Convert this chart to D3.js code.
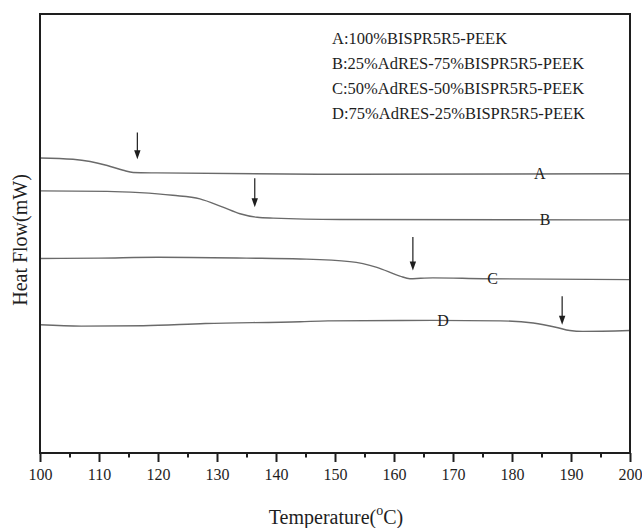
<!DOCTYPE html>
<html>
<head>
<meta charset="utf-8">
<script src="https://cdn.jsdelivr.net/npm/d3@7"></script>
<style>
  html, body { margin: 0; padding: 0; background: #fff; }
  svg { display: block; }
</style>
</head>
<body>
<script>
// Data (temperature in oC, heat flow in arbitrary offset units)
const tempA = [100, 105.6, 108.5, 111.4, 114.1, 115.8, 119.8, 150.8, 200];
const flowA = [6.72, 6.69, 6.64, 6.55, 6.44, 6.39, 6.38, 6.35, 6.36];

const tempB = [100, 111.4, 116.9, 122.5, 127.1, 131, 133.9, 136.8, 139.5, 150.8, 200];
const flowB = [5.97, 5.96, 5.93, 5.87, 5.79, 5.60, 5.45, 5.37, 5.35, 5.32, 5.31];

const tempC = [100, 110, 120, 135, 144.1, 152.5, 157.1, 161, 162.7, 164.5, 166.6, 175.1, 200];
const flowC = [4.43, 4.44, 4.46, 4.44, 4.42, 4.36, 4.23, 4.03, 3.97, 3.98, 3.99, 3.97, 3.95];

const tempD = [100, 107, 117.5, 128, 144.1, 148.8, 166.6, 178, 183.6, 187.6, 189.8, 192, 200];
const flowD = [2.92, 2.89, 2.90, 2.95, 2.99, 3.01, 3.02, 3.01, 2.96, 2.86, 2.79, 2.77, 2.79];

const curveNames = ["A", "B", "C", "D"];
const labelTemps = [184.7, 185.6, 176.7, 168.3];

// Arrows marking the glass transitions
const arrowTemps = [116.5, 136.4, 163.2, 188.5];
const arrowTop = [7.30, 6.26, 4.92, 3.57];
const arrowTip = [6.69, 5.60, 4.16, 2.92];

const legendLines = [
  "A:100%BISPR5R5-PEEK",
  "B:25%AdRES-75%BISPR5R5-PEEK",
  "C:50%AdRES-50%BISPR5R5-PEEK",
  "D:75%AdRES-25%BISPR5R5-PEEK"
];

const majorTicks = [100, 110, 120, 130, 140, 150, 160, 170, 180, 190, 200];
const minorTicks = [105, 115, 125, 135, 145, 155, 165, 175, 185, 195];

// SVG
const W = 642, H = 528;
const margin = { top: 14, right: 12, bottom: 75, left: 40 };
const width = W - margin.left - margin.right;
const height = H - margin.top - margin.bottom;
const font = "'Liberation Serif', 'Times New Roman', serif";
const ink = "#1e1e1e";

const svg = d3.select("body").append("svg")
    .attr("width", W)
    .attr("height", H);

const g = svg.append("g").attr("transform", "translate(" + margin.left + "," + margin.top + ")");

const x = d3.scaleLinear().domain([100, 200]).range([0, width]);
const y = d3.scaleLinear().domain([0, 10]).range([height, 0]);

const series = [
  { t: tempA, f: flowA },
  { t: tempB, f: flowB },
  { t: tempC, f: flowC },
  { t: tempD, f: flowD }
].map(s => s.t.map((t, i) => [t, s.f[i]]));

const line = d3.line()
    .x(d => x(d[0]))
    .y(d => y(d[1]))
    .curve(d3.curveMonotoneX);

// Curves
g.selectAll("path.curve")
  .data(series)
  .join("path")
    .attr("class", "curve")
    .attr("d", line)
    .attr("fill", "none")
    .attr("stroke", "#6a6a6a")
    .attr("stroke-width", 1.4);

// Curve labels, sitting on the line
function valueAt(s, t) {
  const i = d3.bisector(d => d[0]).left(s, t);
  if (i <= 0) return s[0][1];
  const a = s[i - 1], b = s[i];
  return a[1] + (b[1] - a[1]) * (t - a[0]) / (b[0] - a[0]);
}

g.selectAll("text.clabel")
  .data(curveNames)
  .join("text")
    .attr("class", "clabel")
    .attr("x", (d, i) => x(labelTemps[i]))
    .attr("y", (d, i) => y(valueAt(series[i], labelTemps[i])) + 5.5)
    .attr("text-anchor", "middle")
    .attr("font-family", font)
    .attr("font-size", "16px")
    .attr("fill", ink)
    .text(d => d);

// Arrows
const arrows = g.selectAll("g.arrow")
  .data(arrowTemps)
  .join("g")
    .attr("class", "arrow");

arrows.append("line")
    .attr("x1", d => x(d))
    .attr("x2", d => x(d))
    .attr("y1", (d, i) => y(arrowTop[i]))
    .attr("y2", (d, i) => y(arrowTip[i]) - 6)
    .attr("stroke", ink)
    .attr("stroke-width", 1.2);

arrows.append("path")
    .attr("d", (d, i) => {
      const px = x(d), py = y(arrowTip[i]);
      return "M" + (px - 3.2) + "," + (py - 9) + "L" + (px + 3.2) + "," + (py - 9) + "L" + px + "," + py + "Z";
    })
    .attr("fill", ink);

// Frame
g.append("rect")
    .attr("width", width)
    .attr("height", height)
    .attr("fill", "none")
    .attr("stroke", ink)
    .attr("stroke-width", 2);

// Bottom axis
const xAxis = g.append("g")
    .attr("transform", "translate(0," + height + ")")
    .call(d3.axisBottom(x).tickValues(majorTicks).tickSize(9).tickPadding(7).tickFormat(d3.format("d")));
xAxis.select(".domain").remove();
xAxis.selectAll(".tick line").attr("stroke", ink).attr("stroke-width", 2);
xAxis.selectAll("text")
    .attr("font-family", font)
    .attr("font-size", "16px")
    .attr("fill", ink);

const xMinor = g.append("g")
    .attr("transform", "translate(0," + height + ")")
    .call(d3.axisBottom(x).tickValues(minorTicks).tickSize(4.5).tickFormat(""));
xMinor.select(".domain").remove();
xMinor.selectAll(".tick line").attr("stroke", ink).attr("stroke-width", 2);

// Legend
g.selectAll("text.legend")
  .data(legendLines)
  .join("text")
    .attr("class", "legend")
    .attr("x", 292)
    .attr("y", (d, i) => 29.5 + i * 25)
    .attr("font-family", font)
    .attr("font-size", "16.5px")
    .attr("fill", ink)
    .text(d => d);

// Axis titles
const xTitle = svg.append("text")
    .attr("x", margin.left + width / 2 + 1)
    .attr("y", 524)
    .attr("text-anchor", "middle")
    .attr("font-family", font)
    .attr("font-size", "20px")
    .attr("fill", ink);
xTitle.append("tspan").text("Temperature(");
xTitle.append("tspan").attr("dy", -9).attr("font-size", "14px").text("o");
xTitle.append("tspan").attr("dy", 9).text("C)");

svg.append("text")
    .attr("transform", "translate(27," + (margin.top + 226) + ") rotate(-90)")
    .attr("text-anchor", "middle")
    .attr("font-family", font)
    .attr("font-size", "20px")
    .attr("fill", ink)
    .text("Heat Flow(mW)");
</script>
</body>
</html>
